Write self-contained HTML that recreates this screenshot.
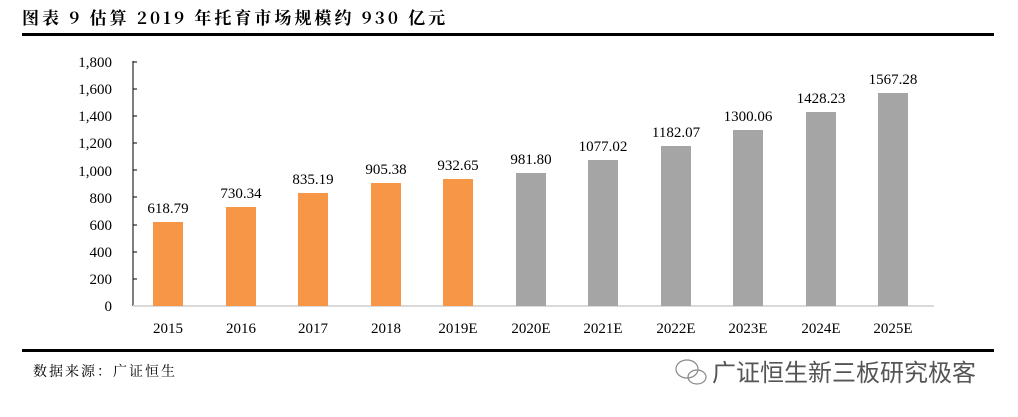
<!DOCTYPE html>
<html><head><meta charset="utf-8"><style>
body{margin:0;background:#fff;width:1018px;height:412px;overflow:hidden}
</style></head><body>
<svg width="1018" height="412" xmlns="http://www.w3.org/2000/svg">
<text x="22" y="24" font-family="'Noto Serif CJK SC','Liberation Serif',serif" font-weight="bold" font-size="17" letter-spacing="3" fill="#000">图表 9 估算 2019 年托育市场规模约 930 亿元</text>
<rect x="22" y="33" width="972" height="3" fill="#000"/>
<g font-family="'Liberation Serif',serif" font-size="15" fill="#000" text-anchor="end">
<text x="112" y="311">0</text><text x="112" y="284">200</text><text x="112" y="257">400</text>
<text x="112" y="230">600</text><text x="112" y="203">800</text><text x="112" y="176">1,000</text>
<text x="112" y="148">1,200</text><text x="112" y="121">1,400</text><text x="112" y="94">1,600</text><text x="112" y="67">1,800</text>
</g>
<line x1="133" y1="61" x2="133" y2="306" stroke="#000" stroke-width="1"/>
<g stroke="#000"><line x1="133" y1="62" x2="137" y2="62"/><line x1="133" y1="89" x2="137" y2="89"/><line x1="133" y1="116" x2="137" y2="116"/><line x1="133" y1="143" x2="137" y2="143"/><line x1="133" y1="170" x2="137" y2="170"/><line x1="133" y1="197" x2="137" y2="197"/><line x1="133" y1="225" x2="137" y2="225"/><line x1="133" y1="252" x2="137" y2="252"/><line x1="133" y1="279" x2="137" y2="279"/></g>
<line x1="133" y1="306" x2="934" y2="306" stroke="#d9d9d9" stroke-width="2"/>
<g>
<rect x="153" y="222" width="30" height="84" fill="#F79646"/>
<rect x="226" y="207" width="30" height="99" fill="#F79646"/>
<rect x="298" y="193" width="30" height="113" fill="#F79646"/>
<rect x="371" y="183" width="30" height="123" fill="#F79646"/>
<rect x="443" y="179" width="30" height="127" fill="#F79646"/>
<rect x="516" y="173" width="30" height="133" fill="#A5A5A5"/>
<rect x="588" y="160" width="30" height="146" fill="#A5A5A5"/>
<rect x="661" y="146" width="30" height="160" fill="#A5A5A5"/>
<rect x="733" y="130" width="30" height="176" fill="#A5A5A5"/>
<rect x="806" y="112" width="30" height="194" fill="#A5A5A5"/>
<rect x="878" y="93" width="30" height="213" fill="#A5A5A5"/>
</g>
<g font-family="'Liberation Serif',serif" font-size="15" fill="#000" text-anchor="middle">
<text x="168" y="213">618.79</text><text x="241" y="198">730.34</text><text x="313" y="184">835.19</text>
<text x="386" y="174">905.38</text><text x="458" y="170">932.65</text><text x="531" y="164">981.80</text>
<text x="603" y="151">1077.02</text><text x="676" y="137">1182.07</text><text x="748" y="121">1300.06</text>
<text x="821" y="103">1428.23</text><text x="893" y="84">1567.28</text>
<text x="168" y="333">2015</text><text x="241" y="333">2016</text><text x="313" y="333">2017</text>
<text x="386" y="333">2018</text><text x="458" y="333">2019E</text><text x="531" y="333">2020E</text>
<text x="603" y="333">2021E</text><text x="676" y="333">2022E</text><text x="748" y="333">2023E</text>
<text x="821" y="333">2024E</text><text x="893" y="333">2025E</text>
</g>
<rect x="22" y="349" width="972" height="3" fill="#000"/>
<text x="33" y="376" font-family="'Noto Serif CJK SC',serif" font-size="14" letter-spacing="2" fill="#000">数据来源：广证恒生</text>
<g stroke="#888" fill="none" stroke-width="1.2"><ellipse cx="687" cy="369" rx="11" ry="9"/><ellipse cx="697" cy="377" rx="9" ry="7"/></g>
<text x="712" y="381" font-family="'Noto Sans CJK SC',sans-serif" font-size="24" fill="#555">广证恒生新三板研究极客</text>
</svg>
</body></html>
